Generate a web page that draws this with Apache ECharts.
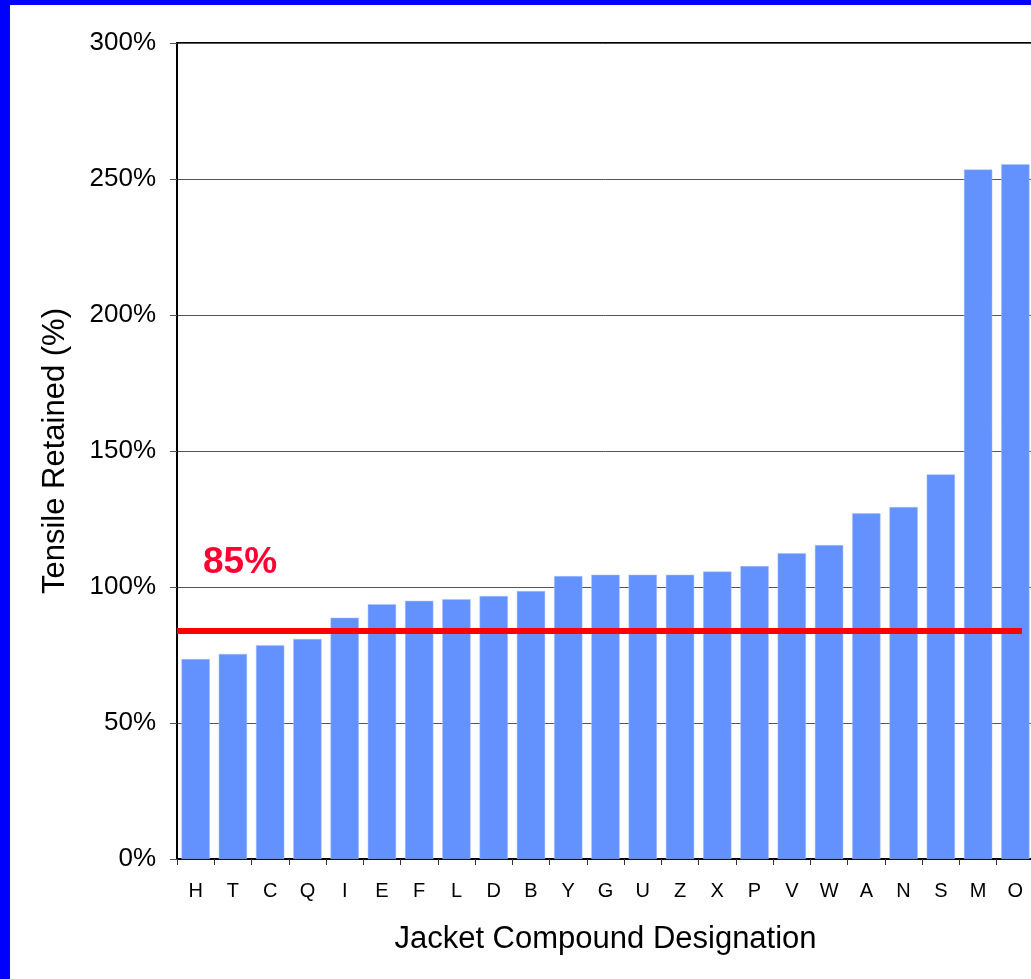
<!DOCTYPE html>
<html>
<head>
<meta charset="utf-8">
<script src="https://cdn.jsdelivr.net/npm/echarts@6/dist/echarts.min.js"></script>
<style>
  html, body { margin: 0; padding: 0; width: 1031px; height: 979px; overflow: hidden; background: #0000ff; }
  #chart { position: absolute; left: 10px; top: 5px; width: 1040px; height: 974px; background: #fff; }
</style>
</head>
<body>
<div id="chart"></div>
<script>
// jacket compounds, sorted by tensile retained
var categories = ['H', 'T', 'C', 'Q', 'I', 'E', 'F', 'L', 'D', 'B', 'Y', 'G', 'U', 'Z', 'X', 'P', 'V', 'W', 'A', 'N', 'S', 'M', 'O'];
var tensileRetained = [73.5, 75.4, 78.6, 80.9, 88.7, 93.7, 94.9, 95.5, 96.7, 98.5, 104.0, 104.5, 104.5, 104.5, 105.7, 107.7, 112.4, 115.4, 127.1, 129.4, 141.4, 253.5, 255.4];
var yTicks = [0, 50, 100, 150, 200, 250, 300];
var limitValue = 84;
var limitLabel = '85%';

var font = 'Arial, "Liberation Sans", sans-serif';
var chart = echarts.init(document.getElementById('chart'));

var opts = {
    animation: false,
    grid: {
        left: 167,
        right: 16,
        top: 38,
        bottom: 120,
        show: true,
        borderColor: '#000',
        borderWidth: 2
    },
    xAxis: {
        type: 'category',
        data: categories,
        name: 'Jacket Compound Designation',
        nameLocation: 'middle',
        nameGap: 65,
        nameTextStyle: { fontFamily: font, fontSize: 31, color: '#000' },
        axisLine: { lineStyle: { color: '#000', width: 1 } },
        axisTick: { show: true, length: 6, lineStyle: { color: '#333' } },
        axisLabel: { fontFamily: font, fontSize: 20, color: '#000', margin: 22, interval: 0 }
    },
    yAxis: {
        type: 'value',
        min: yTicks[0],
        max: yTicks[yTicks.length - 1],
        interval: yTicks[1] - yTicks[0],
        name: 'Tensile Retained (%)',
        nameLocation: 'middle',
        nameGap: 106,
        nameTextStyle: { fontFamily: font, fontSize: 31, color: '#000' },
        axisLine: { show: true, lineStyle: { color: '#000', width: 2 } },
        axisTick: { show: true, length: 7, lineStyle: { color: '#555' } },
        axisLabel: { fontFamily: font, fontSize: 26, color: '#000', margin: 21, padding: [6, 0, 0, 0], formatter: '{value}%' },
        splitLine: { lineStyle: { color: '#555', width: 1 } }
    },
    series: [
        {
            type: 'bar',
            data: tensileRetained,
            barCategoryGap: '24%',
            itemStyle: { color: '#6391fe', borderColor: '#a9c1ff', borderWidth: 0.5 },
            markLine: {
                silent: true,
                symbol: 'none',
                label: { show: false },
                lineStyle: { color: '#ff0000', width: 6, type: 'solid' },
                data: [[{ yAxis: limitValue, x: 167 }, { yAxis: limitValue, x: 1012 }]]
            }
        }
    ],
    graphic: [
        {
            type: 'text',
            left: 193,
            top: 539,
            style: { text: limitLabel, fill: '#ff0033', font: 'bold 37px ' + font }
        }
    ]
};

chart.setOption(opts);
</script>
</body>
</html>
